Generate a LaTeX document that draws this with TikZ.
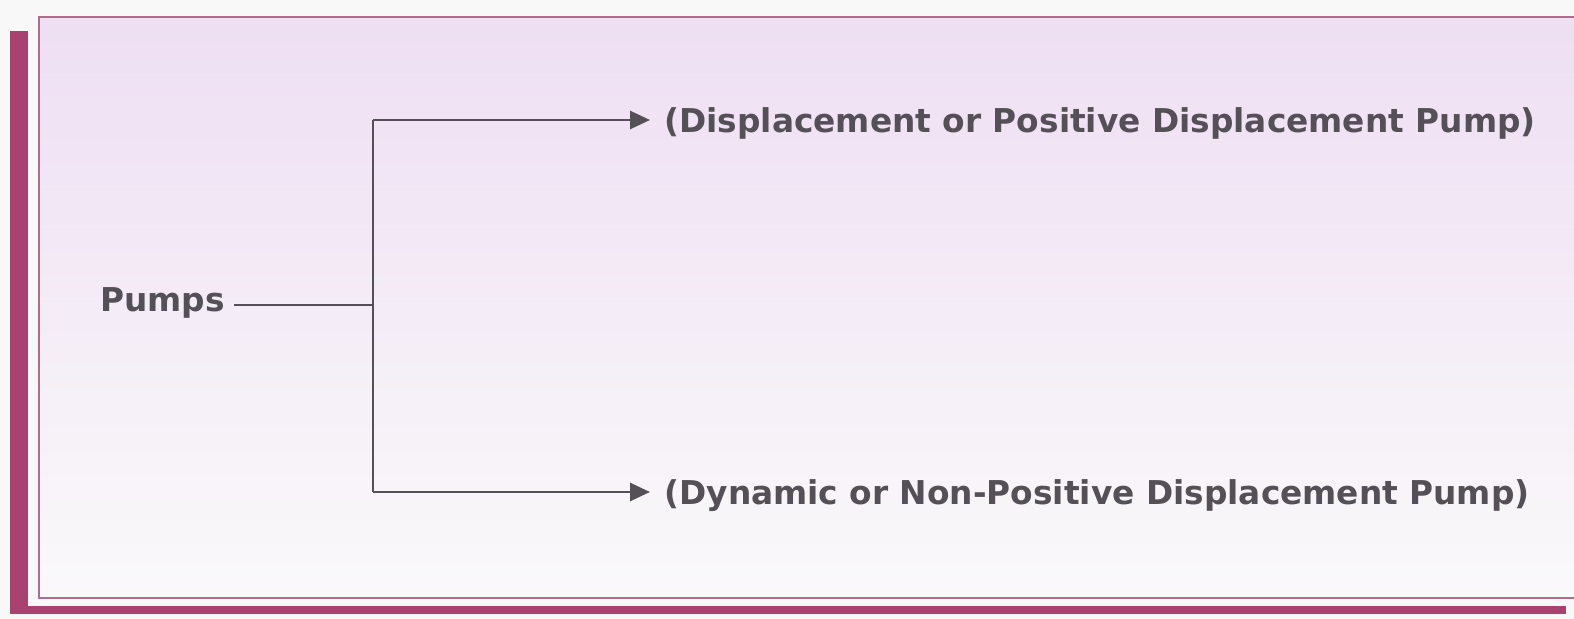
\documentclass[tikz,border=0pt]{standalone}
\usepackage{fontspec}
\setmainfont{DejaVu Sans}
\usetikzlibrary{arrows.meta}
\definecolor{bgout}{HTML}{F8F8F8}
\definecolor{maroon}{HTML}{A8426E}
\definecolor{framec}{HTML}{B06C88}
\definecolor{lavtop}{HTML}{EEDFF3}
\definecolor{lavmid}{HTML}{F4ECF6}
\definecolor{lavbot}{HTML}{FAF9FA}
\definecolor{inkc}{HTML}{555057}
\tikzset{
  lbl/.style={font=\fontsize{16.4pt}{18pt}\selectfont\bfseries, text=inkc, inner sep=0pt, anchor=base west},
  conn/.style={draw=inkc, line width=1.4pt},
  arr/.style={conn, -{Triangle[length=10pt,width=9pt]}}
}
\begin{document}
\begin{tikzpicture}[x=0.5pt,y=-0.5pt]
\useasboundingbox (0,0) rectangle (1574,619);
\fill[bgout] (0,0) rectangle (1574,619);
% maroon bars
\fill[maroon] (10,31) rectangle (28,614);
\fill[maroon] (10,606) rectangle (1566,614);
% shaded panel
\shade[top color=lavtop, middle color=lavmid, bottom color=lavbot] (39,17) rectangle (1580,598);
\draw[framec, line width=1.2pt] (1580,17) -- (39,17) -- (39,598) -- (1580,598);
% nodes
\node[lbl] (pumps) at (100,312) {Pumps};
\node[lbl] (pd) at (664,133) {(Displacement or Positive Displacement Pump)};
\node[lbl] (dyn) at (664,505) {(Dynamic or Non-Positive Displacement Pump)};
\coordinate (st) at (234,305);
\coordinate (jn) at (373,305);
\coordinate (jt) at (373,120);
\coordinate (jb) at (373,492);
\coordinate (tt) at (650,120);
\coordinate (tb) at (650,492);
\draw[conn] (st) -- (jn);
\draw[conn] (jt) -- (jb);
\draw[arr] (jt) -- (tt);
\draw[arr] (jb) -- (tb);
\end{tikzpicture}
\end{document}
